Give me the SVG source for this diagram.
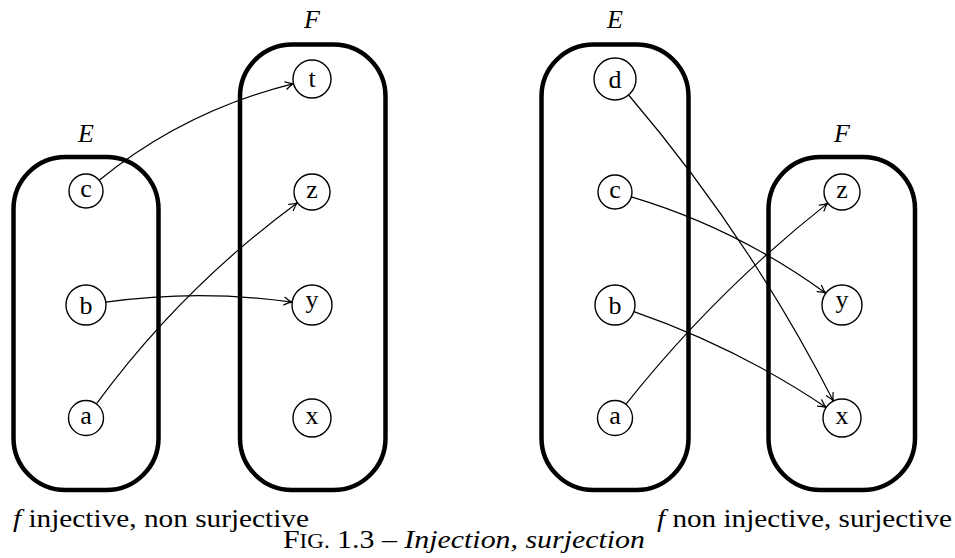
<svg xmlns="http://www.w3.org/2000/svg" width="955" height="558" viewBox="0 0 955 558">
  <style>
    .set { fill: none; stroke: #000; stroke-width: 4.5; }
    .elt { fill: #fff; stroke: #000; stroke-width: 1.4; }
    .lbl { font-family: "Liberation Serif", "Times New Roman", serif; font-size: 26px; fill: #000; text-anchor: middle; }
    .name { font-family: "Liberation Serif", "Times New Roman", serif; font-size: 26px; font-style: italic; fill: #000; text-anchor: middle; }
    .cap { font-family: "Liberation Serif", "Times New Roman", serif; font-size: 26px; fill: #000; }
    .map { fill: none; stroke: #000; stroke-width: 1.2; marker-end: url(#tip); }
  </style>
  <defs>
    <marker id="tip" markerWidth="12" markerHeight="10" refX="0" refY="0" viewBox="-10 -5 12 10" markerUnits="userSpaceOnUse" orient="auto" overflow="visible">
      <path d="M-8,-3.8 Q-3,-0.6 0,0 Q-3,0.6 -8,3.8" fill="none" stroke="#000" stroke-width="1.2" stroke-linecap="round"/>
    </marker>
  </defs>

  <!-- Left figure: injective, non surjective -->
  <g id="left-E">
    <rect class="set" x="13.5" y="157" width="145" height="333" rx="52" ry="52"/>
    <text class="name" x="86" y="142">E</text>
  </g>
  <g id="left-F">
    <rect class="set" x="240" y="44.5" width="145.5" height="445.5" rx="52" ry="52"/>
    <text class="name" x="312" y="28">F</text>
  </g>

  <!-- Right figure: non injective, surjective -->
  <g id="right-E">
    <rect class="set" x="541.5" y="44.5" width="147" height="445.5" rx="52" ry="52"/>
    <text class="name" x="615" y="28">E</text>
  </g>
  <g id="right-F">
    <rect class="set" x="768.5" y="157" width="146.5" height="333" rx="52" ry="52"/>
    <text class="name" x="842" y="142">F</text>
  </g>

  <!-- Mappings -->
  <g id="connectors">
    <path class="map" d="M99.2,180.3 Q184,111 293.6,83.6"/>
    <path class="map" d="M105.8,302.2 Q199,289 292.2,302.2"/>
    <path class="map" d="M96.4,403.9 Q181,288.5 297.5,202.7"/>
    <path class="map" d="M628.6,95 Q749,236 833.4,401.1"/>
    <path class="map" d="M631.3,196.8 Q736,228 825.8,293.2"/>
    <path class="map" d="M633.9,311.6 Q736.3,347 826.2,407.4"/>
    <path class="map" d="M625.6,404.7 Q715,292 827.9,203.1"/>
  </g>

  <!-- Elements of the left sets -->
  <g id="L-c"><circle class="elt" cx="86" cy="191" r="17"/><text class="lbl" x="86" y="196.5">c</text></g>
  <g id="L-b"><circle class="elt" cx="86" cy="305" r="20"/><text class="lbl" x="86" y="314">b</text></g>
  <g id="L-a"><circle class="elt" cx="86" cy="418" r="17.5"/><text class="lbl" x="86" y="423.5">a</text></g>
  <g id="L-t"><circle class="elt" cx="312" cy="79" r="19"/><text class="lbl" x="312" y="87">t</text></g>
  <g id="L-z"><circle class="elt" cx="312" cy="192" r="18"/><text class="lbl" x="312" y="197.5">z</text></g>
  <g id="L-y"><circle class="elt" cx="312" cy="305" r="20"/><text class="lbl" x="312" y="308">y</text></g>
  <g id="L-x"><circle class="elt" cx="312" cy="418" r="19"/><text class="lbl" x="312" y="423.5">x</text></g>

  <!-- Elements of the right sets -->
  <g id="R-d"><circle class="elt" cx="615" cy="79" r="21"/><text class="lbl" x="615" y="88">d</text></g>
  <g id="R-c"><circle class="elt" cx="615" cy="192" r="17"/><text class="lbl" x="615" y="197.5">c</text></g>
  <g id="R-b"><circle class="elt" cx="615" cy="305" r="20"/><text class="lbl" x="615" y="314">b</text></g>
  <g id="R-a"><circle class="elt" cx="615" cy="418" r="17.5"/><text class="lbl" x="615" y="423.5">a</text></g>
  <g id="R-z"><circle class="elt" cx="842" cy="192" r="18"/><text class="lbl" x="842" y="197.5">z</text></g>
  <g id="R-y"><circle class="elt" cx="842" cy="305" r="20"/><text class="lbl" x="842" y="308">y</text></g>
  <g id="R-x"><circle class="elt" cx="842" cy="418" r="19"/><text class="lbl" x="842" y="423.5">x</text></g>

  <!-- Captions -->
  <text class="cap" x="13" y="527" textLength="296" lengthAdjust="spacingAndGlyphs"><tspan font-style="italic">f</tspan> injective, non surjective</text>
  <text class="cap" x="657" y="527" textLength="295" lengthAdjust="spacingAndGlyphs"><tspan font-style="italic">f</tspan> non injective, surjective</text>
  <text class="cap" x="283" y="548" textLength="362" lengthAdjust="spacingAndGlyphs">F<tspan font-size="20px">IG.</tspan> 1.3 – <tspan font-style="italic">Injection, surjection</tspan></text>
</svg>
